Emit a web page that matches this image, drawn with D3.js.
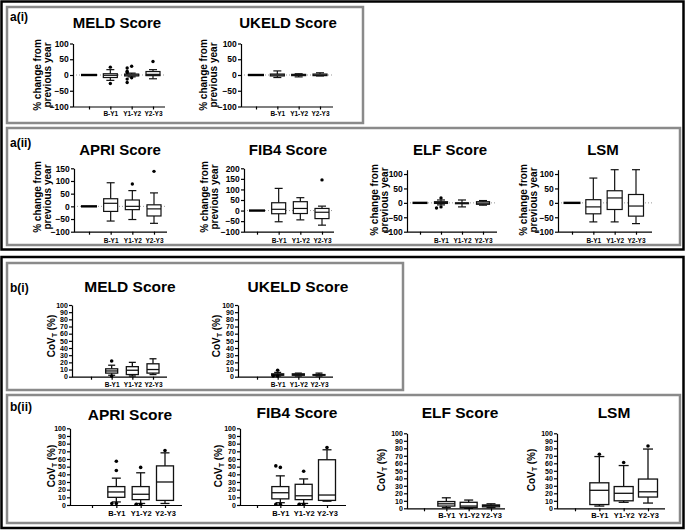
<!DOCTYPE html>
<html><head><meta charset="utf-8">
<script src="https://cdn.jsdelivr.net/npm/d3@7"></script>
<style>
body{margin:0;background:#fff}
svg{display:block}
text{font-family:"Liberation Sans",Arial,sans-serif;font-weight:bold;fill:#000}
</style>
</head><body>
<svg id="c" width="685" height="531"></svg>
<script>
// ---------- DATA ----------
const categories = ["B", "B-Y1", "Y1-Y2", "Y2-Y3"];
const categoryLabels = ["", "B-Y1", "Y1-Y2", "Y2-Y3"];
const changeTicks = [-100, -50, 0, 50, 100];
const apriChangeTicks = [-100, -50, 0, 50, 100, 150];
const fib4ChangeTicks = [-100, -50, 0, 50, 100, 150, 200];
const covTicks = [0, 10, 20, 30, 40, 50, 60, 70, 80, 90, 100];

// box stats: [lowWhisker, q1, median, q3, highWhisker]
const meldChange = [[0,0,0,0,0], [-17,-8,-1,4,17], [-6,-3,0,3,6], [-12,-2,2,11,17]];
const meldChangeOut = [[], [25,-27], [28,22,12,8,-9,-13,-24], [43]];
const ukeldChange = [[0,0,0,0,0], [-8,-3,0,3,13], [-6,-2,0,2,4], [-3,-2,0,3,7]];
const ukeldChangeOut = [[], [], [], []];
const apriChange = [[0,0,0,0,0], [-58,-20,12,30,93], [-52,-13,0,25,62], [-67,-38,-10,6,53]];
const apriChangeOut = [[], [], [88], [138]];
const fib4Change = [[0,0,0,0,0], [-53,-15,6,37,105], [-44,-14,10,42,61], [-69,-38,-8,10,21]];
const fib4ChangeOut = [[], [], [], [145]];
const elfChange = [[0,0,0,0,0], [-7,-2,1,4,10], [-14,-3,-1,0,10], [-8,-5,-1,4,8]];
const elfChangeOut = [[], [17,-14,-18], [], []];
const lsmChange = [[0,0,0,0,0], [-66,-38,-14,11,86], [-66,-23,17,42,115], [-72,-46,-11,29,115]];
const lsmChangeOut = [[], [], [], []];

const meldCov = [null, [2,5,8,11,16], [1,3,9,14,20], [3,5,10,18,25]];
const meldCovOut = [[], [22,1], [], []];
const ukeldCov = [null, [1,2,3,4,6], [1,2,3,4,5], [1,2,2.5,3,5]];
const ukeldCovOut = [[], [9,1,1], [], []];
const apriCov = [null, [4,10,17,24,35], [2,7,14,24,42], [2,6,30,51,68]];
const apriCovOut = [[], [57,45,2,2], [49,1,1], [71]];
const fib4Cov = [null, [3,8,16,24,38], [2,7,12,27,34], [5,6,13,59,72]];
const fib4CovOut = [[], [49,51,1,1], [44,1,1], [75]];
const elfCov = [null, [1,3,6,9,14], [0,1,3,8,11], [1,2,3.5,4.5,6]];
const elfCovOut = [[], [], [], []];
const lsmCov = [null, [3,5,24,34,69], [8,10,20,29,57], [7,15,22,39,79]];
const lsmCovOut = [[], [72], [61], [83]];

// ---------- DRAWING ----------
const svg = d3.select("#c");
const FONT = '"Liberation Sans",Arial,sans-serif';

function frame(x, y, w, h, color) {
  svg.append("rect").attr("x", x).attr("y", y).attr("width", w).attr("height", h)
    .attr("fill", "none").attr("stroke", color).attr("stroke-width", 2.5);
}
frame(1.5, 1.5, 682, 248, "#000");
frame(1.5, 257, 682, 271, "#000");
frame(7, 7, 356, 116, "#8a8a8a");
frame(7, 128, 673, 117, "#8a8a8a");
frame(7, 263, 396, 127, "#8a8a8a");
frame(7, 395, 673, 128, "#8a8a8a");

function label(t, x, y) {
  svg.append("text").attr("x", x).attr("y", y).attr("font-size", 12).text(t);
}
label("a(i)", 10, 21);
label("a(ii)", 10, 147);
label("b(i)", 10, 292);
label("b(ii)", 10, 411);

function drawPlot(p) {
  const g = svg.append("g");
  const x = d3.scalePoint().domain(categories).range([p.x0, p.x1]);
  const y = d3.scaleLinear().domain(p.domain).range([p.yBot, p.yTop]);

  if (p.zero) {
    g.append("line").attr("x1", p.axisX).attr("x2", p.axisEnd)
      .attr("y1", y(0)).attr("y2", y(0))
      .attr("stroke", "#9a9a9a").attr("stroke-width", 1).attr("stroke-dasharray", "1,2");
  }

  p.stats.forEach((s, i) => {
    if (!s) return;
    const cx = x(categories[i]);
    const [lo, q1, md, q3, hi] = s;
    if (lo === hi) {
      g.append("line").attr("x1", cx - p.bw / 2 - 1).attr("x2", cx + p.bw / 2 + 1)
        .attr("y1", y(md)).attr("y2", y(md)).attr("stroke", "#000").attr("stroke-width", 2.4);
      return;
    }
    const ln = (x1, y1, x2, y2) => g.append("line").attr("x1", x1).attr("y1", y1)
      .attr("x2", x2).attr("y2", y2).attr("stroke", "#111").attr("stroke-width", p.sw);
    ln(cx, y(hi), cx, y(q3));
    ln(cx, y(q1), cx, y(lo));
    ln(cx - p.cap / 2, y(hi), cx + p.cap / 2, y(hi));
    ln(cx - p.cap / 2, y(lo), cx + p.cap / 2, y(lo));
    g.append("rect").attr("x", cx - p.bw / 2).attr("y", y(q3))
      .attr("width", p.bw).attr("height", Math.max(0.5, y(q1) - y(q3)))
      .attr("fill", "#fff").attr("stroke", "#111").attr("stroke-width", p.sw);
    ln(cx - p.bw / 2, y(md), cx + p.bw / 2, y(md));
  });

  p.out.forEach((arr, i) => {
    const cx = x(categories[i]);
    const placed = [];
    arr.forEach(v => {
      const py = y(v);
      const near = placed.filter(q => Math.abs(q - py) < 4).length;
      placed.push(py);
      const off = near === 0 ? 0 : (near % 2 ? -1 : 1) * Math.ceil(near / 2) * 4.5;
      g.append("circle").attr("cx", cx + off).attr("cy", py).attr("r", p.r).attr("fill", "#000");
    });
  });

  const ya = g.append("g").attr("transform", `translate(${p.axisX},0)`)
    .call(d3.axisLeft(y).tickValues(p.ticks).tickSize(3).tickSizeOuter(0).tickPadding(1.2));
  ya.attr("font-family", FONT);
  ya.selectAll("path,line").attr("stroke", "#000").attr("stroke-width", 1.2);
  ya.selectAll("text").attr("font-size", p.tickFs).attr("font-weight", "bold").attr("fill", "#000");

  g.append("line").attr("x1", p.axisX).attr("x2", p.axisEnd)
    .attr("y1", p.yBot + 0.5).attr("y2", p.yBot + 0.5).attr("stroke", "#000").attr("stroke-width", 1.2);
  const xa = g.append("g").attr("transform", `translate(0,${p.yBot})`)
    .call(d3.axisBottom(x).tickSize(3).tickPadding(p.xPad).tickFormat((d, i) => categoryLabels[i]));
  xa.attr("font-family", FONT);
  xa.select(".domain").remove();
  xa.selectAll("line").attr("stroke", "#000").attr("stroke-width", 1.2);
  xa.selectAll("text").attr("font-size", p.xFs).attr("font-weight", "bold").attr("fill", "#000");

  g.append("text").attr("x", p.tx).attr("y", p.ty).attr("text-anchor", "middle")
    .attr("font-size", p.tFs).text(p.title);

  const cy = p.ytY;
  if (p.cov) {
    const t = g.append("text").attr("transform", `translate(${p.ytX},${cy}) rotate(-90)`)
      .attr("text-anchor", "middle").attr("font-size", 10);
    t.append("tspan").text("CoV");
    t.append("tspan").attr("font-size", 7).attr("dy", 2).text("T");
    t.append("tspan").attr("dy", -2).text(" (%)");
  } else {
    ["% change from", "previous year"].forEach((s, k) => {
      g.append("text").attr("transform", `translate(${p.ytX[k]},${cy}) rotate(-90)`)
        .attr("text-anchor", "middle").attr("font-size", 10).text(s);
    });
  }
}

const A = { zero: true, bw: 14, cap: 8, sw: 1.2, r: 1.7, tickFs: 8.5, xFs: 6.5, tFs: 15 };
const B = { zero: false, cov: true, sw: 1.3, r: 1.8, tickFs: 7, tFs: 15.5, domain: [0, 100], ticks: covTicks };

const plots = [
  { ...A, title: "MELD Score", tx: 117, ty: 28, axisX: 73, x0: 89, x1: 153, axisEnd: 165, yTop: 43.5, yBot: 106.5,
    domain: [-100, 100], ticks: changeTicks, stats: meldChange, out: meldChangeOut, ytX: [41, 51], ytY: 75, xPad: 1.5 },
  { ...A, title: "UKELD Score", tx: 288, ty: 28, axisX: 241, x0: 256, x1: 320, axisEnd: 333, yTop: 43.5, yBot: 106.5,
    domain: [-100, 100], ticks: changeTicks, stats: ukeldChange, out: ukeldChangeOut, ytX: [207, 217], ytY: 75, xPad: 1.5 },
  { ...A, title: "APRI Score", tx: 120, ty: 155, axisX: 74, x0: 89, x1: 154, axisEnd: 167, yTop: 168.3, yBot: 231.7,
    domain: [-100, 150], ticks: apriChangeTicks, stats: apriChange, out: apriChangeOut, ytX: [41, 51], ytY: 197, xPad: 3.5 },
  { ...A, title: "FIB4 Score", tx: 288, ty: 155, axisX: 244, x0: 257, x1: 322, axisEnd: 334, yTop: 168.3, yBot: 231.7,
    domain: [-100, 200], ticks: fib4ChangeTicks, stats: fib4Change, out: fib4ChangeOut, ytX: [208, 218], ytY: 197, xPad: 3.5 },
  { ...A, title: "ELF Score", tx: 450, ty: 155, axisX: 407, x0: 420, x1: 483, axisEnd: 497, yTop: 169.7, yBot: 231.7,
    domain: [-100, 115], ticks: changeTicks, stats: elfChange, out: elfChangeOut, ytX: [378, 388], ytY: 200, xPad: 3.5, bw: 13 },
  { ...A, title: "LSM", tx: 603, ty: 155, axisX: 558, x0: 572, x1: 636, axisEnd: 652, yTop: 169.7, yBot: 231.7,
    domain: [-100, 115], ticks: changeTicks, stats: lsmChange, out: lsmChangeOut, ytX: [527, 537], ytY: 200, xPad: 3.5, bw: 15 },
  { ...B, title: "MELD Score", tx: 130, ty: 292, axisX: 72, x0: 91, x1: 153, axisEnd: 167, yTop: 305, yBot: 376.7,
    stats: meldCov, out: meldCovOut, ytX: 55, ytY: 336, bw: 12, cap: 7, xFs: 6.5, xPad: 2.5 },
  { ...B, title: "UKELD Score", tx: 298, ty: 292, axisX: 238, x0: 257, x1: 319, axisEnd: 333, yTop: 305, yBot: 376.7,
    stats: ukeldCov, out: ukeldCovOut, ytX: 220, ytY: 336, bw: 12, cap: 7, xFs: 6.5, xPad: 2.5 },
  { ...B, title: "APRI Score", tx: 130, ty: 420, axisX: 70, x0: 92, x1: 165, axisEnd: 182, yTop: 428.3, yBot: 505,
    stats: apriCov, out: apriCovOut, ytX: 55, ytY: 466, bw: 17, cap: 9, xFs: 7.5, xPad: 2.5 },
  { ...B, title: "FIB4 Score", tx: 297, ty: 418, axisX: 240, x0: 257, x1: 327, axisEnd: 346, yTop: 428.3, yBot: 505,
    stats: fib4Cov, out: fib4CovOut, ytX: 222, ytY: 466, bw: 17, cap: 9, xFs: 7.5, xPad: 2.5 },
  { ...B, title: "ELF Score", tx: 460, ty: 418, axisX: 407, x0: 424, x1: 491, axisEnd: 505, yTop: 433.3, yBot: 508.3,
    stats: elfCov, out: elfCovOut, ytX: 385, ytY: 470, bw: 17, cap: 9, xFs: 7.5, xPad: 1.5 },
  { ...B, title: "LSM", tx: 614, ty: 418, axisX: 557, x0: 575, x1: 648, axisEnd: 665, yTop: 433.3, yBot: 508.3,
    stats: lsmCov, out: lsmCovOut, ytX: 535, ytY: 470, bw: 19, cap: 10, xFs: 7.5, xPad: 1.5 },
];
plots.forEach(drawPlot);
</script>
</body></html>
